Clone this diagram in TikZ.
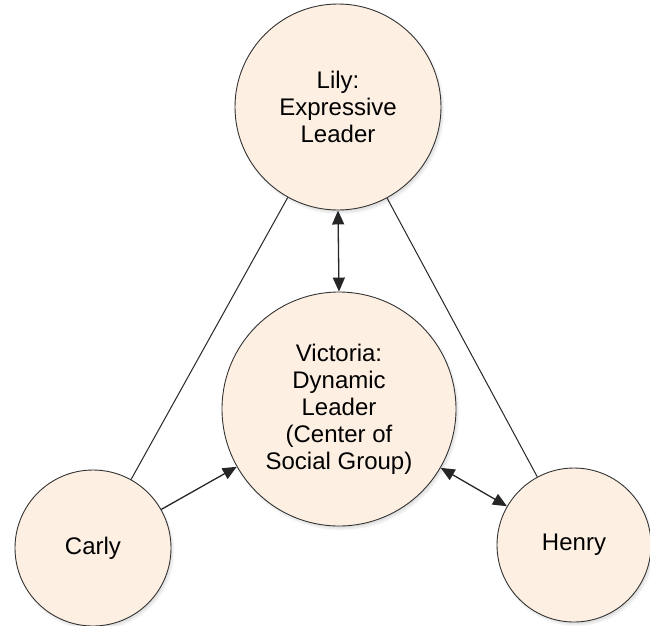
\documentclass[tikz,border=0pt]{standalone}
\usepackage{fontspec}
\setmainfont{Liberation Sans}
\usetikzlibrary{arrows.meta,shadows.blur}
\definecolor{peach}{RGB}{253,239,226}
\begin{document}
\begin{tikzpicture}[x=1pt,y=-1pt, >={Triangle[length=14pt,width=12pt]},
		person/.style={circle, draw=black!80, line width=0.9pt, fill=peach, inner sep=0pt, align=center,
			font=\fontsize{24}{27}\selectfont,
			blur shadow={shadow xshift=2pt, shadow yshift=-3pt, shadow opacity=12}},
		link/.style={draw=black!85, line width=1pt}]
		\useasboundingbox (0,0) rectangle (650,625);
		
		\node[person, minimum size=206pt] (lily) at (338,107) {Lily:\\Expressive\\Leader};
		\node[person, minimum size=234pt] (victoria) at (339,409) {Victoria:\\Dynamic\\Leader\\(Center of\\Social Group)};
		\node[person, minimum size=156pt] (carly) at (93,548) {Carly};
		\node[person, minimum size=154pt] (henry) at (574,545) {Henry};
		
		\draw[link] (carly) -- (lily);
		\draw[link] (henry) -- (lily);
		\draw[link, line width=1.3pt, ->] (carly) -- (victoria);
		\draw[link, line width=1.3pt, <->] (lily.south) -- (victoria.north);
		\draw[link, line width=1.3pt, <->] (victoria) -- (henry);
	\end{tikzpicture}
\end{document}
